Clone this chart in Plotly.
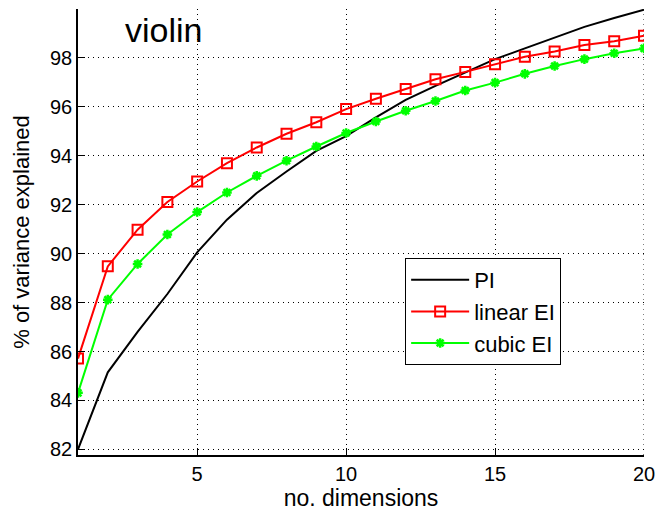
import plotly.graph_objects as go

dims = list(range(1, 21))
pi_vals = [82.0, 85.15, 86.8, 88.35, 90.05, 91.39, 92.48, 93.36, 94.2, 94.8,
           95.57, 96.29, 96.86, 97.40, 97.95, 98.39, 98.83, 99.27, 99.63, 99.97]
linear_ei = [85.71, 89.48, 90.98, 92.11, 92.95, 93.70, 94.34, 94.90, 95.37, 95.91,
             96.33, 96.73, 97.13, 97.43, 97.74, 98.05, 98.26, 98.53, 98.68, 98.91]
cubic_ei = [84.31, 88.12, 89.58, 90.78, 91.70, 92.50, 93.18, 93.80, 94.38, 94.93,
            95.40, 95.84, 96.24, 96.67, 96.99, 97.35, 97.67, 97.95, 98.19, 98.39]
x_ticks = [5, 10, 15, 20]
y_ticks = [82, 84, 86, 88, 90, 92, 94, 96, 98]

FONT = "Liberation Sans, Arial, Helvetica, sans-serif"

fig = go.Figure()
fig.add_trace(go.Scatter(x=dims, y=pi_vals, mode="lines", name="PI",
                         line=dict(color="black", width=2)))
fig.add_trace(go.Scatter(x=dims, y=linear_ei, mode="lines+markers", name="linear EI",
                         line=dict(color="#ff0000", width=2),
                         marker=dict(symbol="square-open", size=10, color="#ff0000",
                                     line=dict(width=2, color="#ff0000"))))
fig.add_trace(go.Scatter(x=dims, y=cubic_ei, mode="lines+markers", name="cubic EI",
                         line=dict(color="#00ff00", width=2),
                         marker=dict(symbol="asterisk-open", size=8, color="#00ff00",
                                     line=dict(width=2.5, color="#00ff00"))))

# dotted grid line at the right edge (x = last tick), which plotly skips at the range end
fig.add_shape(type="line", xref="x", yref="paper", x0=x_ticks[-1], x1=x_ticks[-1],
              y0=0, y1=1, line=dict(color="black", width=1, dash="1px,4px"), layer="below")

fig.update_layout(
    width=655, height=511,
    margin=dict(l=78, r=11, t=9, b=56, autoexpand=False),
    paper_bgcolor="white", plot_bgcolor="white",
    font=dict(family=FONT, color="black", size=20),
    showlegend=True,
    legend=dict(x=0.578, y=0.4417, xanchor="left", yanchor="top",
                bgcolor="white", bordercolor="black", borderwidth=1,
                font=dict(size=22, family=FONT, color="black"),
                itemwidth=58, tracegroupgap=0),
    annotations=[dict(text="violin", xref="paper", yref="paper", x=0.0795, y=0.953,
                      xanchor="left", yanchor="middle", showarrow=False,
                      font=dict(size=34, family=FONT, color="black"))],
)
fig.update_xaxes(range=[1, 20], tickvals=x_ticks, ticks="inside", ticklen=7,
                 tickcolor="black", showline=True, linecolor="black", linewidth=1.5,
                 showgrid=True, gridcolor="black", gridwidth=1, griddash="1px,4px",
                 zeroline=False, tickfont=dict(size=20), ticklabeloverflow="allow",
                 automargin=False,
                 title=dict(text="no. dimensions", font=dict(size=23), standoff=2))
fig.update_yaxes(range=[81.77, 100.0], tickvals=y_ticks, ticks="inside", ticklen=7,
                 tickcolor="black", showline=True, linecolor="black", linewidth=1.5,
                 showgrid=True, gridcolor="black", gridwidth=1, griddash="1px,4px",
                 zeroline=False, tickfont=dict(size=20), automargin=False,
                 title=dict(text="% of variance explained", font=dict(size=22), standoff=14))

fig.write_html("out.html")
